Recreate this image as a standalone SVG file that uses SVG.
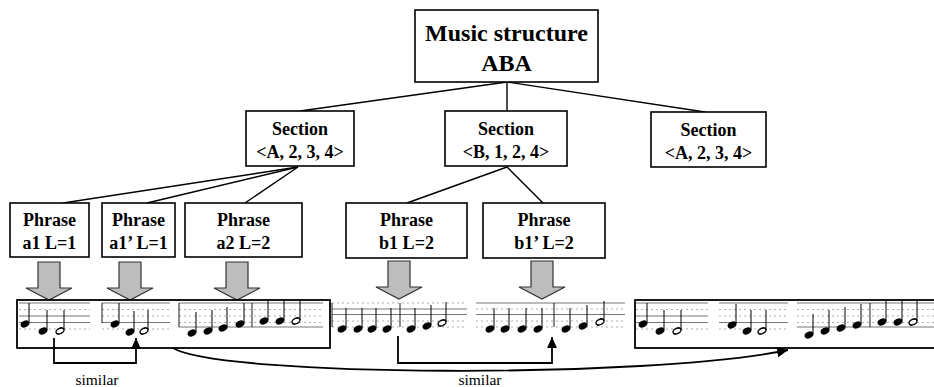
<svg xmlns="http://www.w3.org/2000/svg" xmlns:xlink="http://www.w3.org/1999/xlink" width="934" height="387" viewBox="0 0 934 387">
<style>
.box{fill:#fff;stroke:#000;stroke-width:1.6}
.t{font-family:"Liberation Serif","Times New Roman",serif;font-weight:bold;text-anchor:middle;fill:#000}
.lbl{font-family:"Liberation Serif","Times New Roman",serif;font-size:15.5px;text-anchor:middle;fill:#000}
.edge{stroke:#000;stroke-width:1.4;fill:none}
.conn{stroke:#000;stroke-width:1.8;fill:none}
.garrow{fill:#bdbdbd;stroke:#333;stroke-width:1.2}
.sl{stroke:#666;stroke-width:0.9}
.sd{stroke:#999;stroke-width:0.8;stroke-dasharray:2 3}
.bar{stroke:#000;stroke-width:0.9}
.frame{fill:none;stroke:#000;stroke-width:1.8}
</style>
<defs>
<marker id="ah" markerUnits="userSpaceOnUse" markerWidth="12" markerHeight="12" refX="11" refY="5" orient="auto">
<path d="M0,0 L11,5 L0,10 z" fill="#000"/>
</marker>
<polygon id="garr" class="garrow" points="-11,0 11,0 11,26 23,26 0,38 -23,26 -11,26"/>
<g id="q"><ellipse cx="0" cy="0" rx="4.6" ry="3.2" transform="rotate(-25)" fill="#000"/><line x1="4" y1="-1" x2="4" y2="-21" stroke="#000" stroke-width="1"/></g>
<g id="h"><ellipse cx="0" cy="0" rx="4.2" ry="2.7" transform="rotate(-25)" fill="#fff" stroke="#000" stroke-width="1.4"/><line x1="4" y1="-1" x2="4" y2="-21" stroke="#000" stroke-width="1"/></g>
</defs>
<rect width="934" height="387" fill="#fff"/>

<g id="connectors">
<line class="edge" x1="507" y1="82" x2="300" y2="111"/>
<line class="edge" x1="507" y1="82" x2="507" y2="111"/>
<line class="edge" x1="507" y1="82" x2="705" y2="112"/>
<line class="edge" x1="298" y1="167" x2="63" y2="203"/>
<line class="edge" x1="298" y1="167" x2="147" y2="203"/>
<line class="edge" x1="298" y1="167" x2="245" y2="203"/>
<line class="edge" x1="507" y1="167" x2="407" y2="203"/>
<line class="edge" x1="507" y1="167" x2="543" y2="203"/>
<path class="conn" d="M54,338 V363 H136 V338" marker-end="url(#ah)"/>
<path class="conn" d="M398,336 V363 H552 V337" marker-end="url(#ah)"/>
<path class="conn" d="M173,348 C220,377 650,379 788,350" marker-end="url(#ah)"/>
</g>

<g id="root">
<rect class="box" x="415" y="10" width="183" height="72"/>
<text class="t" x="506.5" y="41" font-size="24">Music structure</text>
<text class="t" x="506.5" y="71" font-size="24">ABA</text>
</g>

<g id="sectionA1">
<rect class="box" x="246" y="111" width="108" height="55"/>
<text class="t" x="300" y="135" font-size="18">Section</text>
<text class="t" x="300" y="158" font-size="18">&lt;A, 2, 3, 4&gt;</text>
</g>
<g id="sectionB">
<rect class="box" x="445" y="111" width="122" height="55"/>
<text class="t" x="506" y="135" font-size="18">Section</text>
<text class="t" x="506" y="158" font-size="18">&lt;B, 1, 2, 4&gt;</text>
</g>
<g id="sectionA2">
<rect class="box" x="651" y="112" width="115" height="55"/>
<text class="t" x="708.5" y="136" font-size="18">Section</text>
<text class="t" x="708.5" y="159" font-size="18">&lt;A, 2, 3, 4&gt;</text>
</g>

<g id="phrase-a1">
<rect class="box" x="10" y="203" width="79" height="54"/>
<text class="t" x="49.5" y="226" font-size="18">Phrase</text>
<text class="t" x="49.5" y="249" font-size="18">a1 L=1</text>
</g>
<g id="phrase-a1p">
<rect class="box" x="102" y="203" width="73" height="54"/>
<text class="t" x="138.5" y="226" font-size="18">Phrase</text>
<text class="t" x="138.5" y="249" font-size="18">a1’ L=1</text>
</g>
<g id="phrase-a2">
<rect class="box" x="185" y="203" width="117" height="54"/>
<text class="t" x="243.5" y="226" font-size="18">Phrase</text>
<text class="t" x="243.5" y="249" font-size="18">a2 L=2</text>
</g>
<g id="phrase-b1">
<rect class="box" x="346" y="203" width="121" height="55"/>
<text class="t" x="406.5" y="226" font-size="18">Phrase</text>
<text class="t" x="406.5" y="249" font-size="18">b1 L=2</text>
</g>
<g id="phrase-b1p">
<rect class="box" x="483" y="203" width="122" height="55"/>
<text class="t" x="544" y="226" font-size="18">Phrase</text>
<text class="t" x="544" y="249" font-size="18">b1’ L=2</text>
</g>

<g id="gray-arrows">
<use xlink:href="#garr" x="49" y="262"/>
<use xlink:href="#garr" x="130" y="262"/>
<use xlink:href="#garr" x="237" y="262"/>
<use xlink:href="#garr" x="399" y="261"/>
<use xlink:href="#garr" x="542" y="261"/>
</g>

<g id="score">
<rect class="frame" x="17" y="300" width="313" height="48"/>
<rect class="frame" x="635" y="300" width="310" height="48"/>

<g>
<line class="sl" x1="19" y1="303" x2="90" y2="303"/><line class="sd" x1="19" y1="309.5" x2="90" y2="309.5"/><line class="sl" x1="19" y1="316" x2="90" y2="316"/><line class="sl" x1="19" y1="322.5" x2="90" y2="322.5"/><line class="sd" x1="19" y1="329" x2="90" y2="329"/>
<use xlink:href="#q" x="25" y="324"/><use xlink:href="#q" x="43" y="331"/><use xlink:href="#h" x="60" y="331"/>
</g>
<g>
<line class="sl" x1="102" y1="303" x2="170" y2="303"/><line class="sd" x1="102" y1="309.5" x2="170" y2="309.5"/><line class="sd" x1="102" y1="316" x2="170" y2="316"/><line class="sl" x1="102" y1="322.5" x2="170" y2="322.5"/><line class="sd" x1="102" y1="329" x2="170" y2="329"/>
<line class="bar" x1="102" y1="303" x2="102" y2="323"/>
<use xlink:href="#q" x="115" y="324"/><use xlink:href="#q" x="130" y="332"/><use xlink:href="#h" x="144" y="331"/>
</g>
<g>
<line class="sl" x1="179" y1="303" x2="323" y2="303"/><line class="sd" x1="179" y1="309.5" x2="323" y2="309.5"/><line class="sd" x1="179" y1="316" x2="323" y2="316"/><line class="sd" x1="179" y1="322.5" x2="323" y2="322.5"/><line class="sl" x1="179" y1="327" x2="323" y2="327"/>
<line class="bar" x1="179" y1="303" x2="179" y2="327"/><line class="bar" x1="252" y1="303" x2="252" y2="327"/>
<use xlink:href="#q" x="192" y="333"/><use xlink:href="#q" x="208" y="331"/><use xlink:href="#q" x="223" y="328"/><use xlink:href="#q" x="240" y="324"/>
<use xlink:href="#q" x="264" y="321"/><use xlink:href="#q" x="280" y="321"/><use xlink:href="#h" x="296" y="321"/>
</g>
<g>
<line class="sd" x1="332" y1="303" x2="467" y2="303"/><line class="sl" x1="332" y1="309" x2="467" y2="309"/><line class="sl" x1="332" y1="314.5" x2="467" y2="314.5"/><line class="sd" x1="332" y1="321" x2="467" y2="321"/><line class="sd" x1="332" y1="327" x2="467" y2="327"/>
<line class="bar" x1="332" y1="303" x2="332" y2="327"/><line class="bar" x1="400" y1="303" x2="400" y2="327"/>
<use xlink:href="#q" x="342" y="329"/><use xlink:href="#q" x="358" y="329"/><use xlink:href="#q" x="372" y="329"/><use xlink:href="#q" x="387" y="329"/>
<use xlink:href="#q" x="411" y="329"/><use xlink:href="#q" x="427" y="326"/><use xlink:href="#h" x="442" y="323"/>
</g>
<g>
<line class="sl" x1="476" y1="303" x2="625" y2="303"/><line class="sd" x1="476" y1="309" x2="625" y2="309"/><line class="sl" x1="476" y1="314.5" x2="625" y2="314.5"/><line class="sd" x1="476" y1="321" x2="625" y2="321"/><line class="sd" x1="476" y1="327" x2="625" y2="327"/>
<line class="bar" x1="554" y1="303" x2="554" y2="327"/>
<use xlink:href="#q" x="490" y="329"/><use xlink:href="#q" x="505" y="329"/><use xlink:href="#q" x="522" y="329"/><use xlink:href="#q" x="538" y="329"/>
<use xlink:href="#q" x="566" y="329"/><use xlink:href="#q" x="583" y="326"/><use xlink:href="#h" x="600" y="322"/>
</g>
<g>
<line class="sl" x1="636" y1="303" x2="708" y2="303"/><line class="sd" x1="636" y1="309.5" x2="708" y2="309.5"/><line class="sl" x1="636" y1="316" x2="708" y2="316"/><line class="sl" x1="636" y1="322.5" x2="708" y2="322.5"/><line class="sd" x1="636" y1="329" x2="708" y2="329"/>
<use xlink:href="#q" x="643" y="324"/><use xlink:href="#q" x="660" y="331"/><use xlink:href="#h" x="677" y="331"/>
</g>
<g>
<line class="sl" x1="719" y1="303" x2="788" y2="303"/><line class="sd" x1="719" y1="309.5" x2="788" y2="309.5"/><line class="sd" x1="719" y1="316" x2="788" y2="316"/><line class="sl" x1="719" y1="322.5" x2="788" y2="322.5"/><line class="sd" x1="719" y1="329" x2="788" y2="329"/>
<use xlink:href="#q" x="732" y="325"/><use xlink:href="#q" x="747" y="331"/><use xlink:href="#h" x="762" y="331"/>
</g>
<g>
<line class="sl" x1="797" y1="303" x2="934" y2="303"/><line class="sd" x1="797" y1="309.5" x2="934" y2="309.5"/><line class="sd" x1="797" y1="316" x2="934" y2="316"/><line class="sd" x1="797" y1="322.5" x2="934" y2="322.5"/><line class="sl" x1="797" y1="327" x2="934" y2="327"/>
<line class="bar" x1="870" y1="303" x2="870" y2="327"/>
<use xlink:href="#q" x="809" y="335"/><use xlink:href="#q" x="825" y="331"/><use xlink:href="#q" x="841" y="328"/><use xlink:href="#q" x="857" y="325"/>
<use xlink:href="#q" x="882" y="322"/><use xlink:href="#q" x="898" y="322"/><use xlink:href="#h" x="913" y="322"/>
</g>
</g>

<g id="labels">
<text class="lbl" x="97" y="385">similar</text>
<text class="lbl" x="480" y="385">similar</text>
</g>
</svg>
